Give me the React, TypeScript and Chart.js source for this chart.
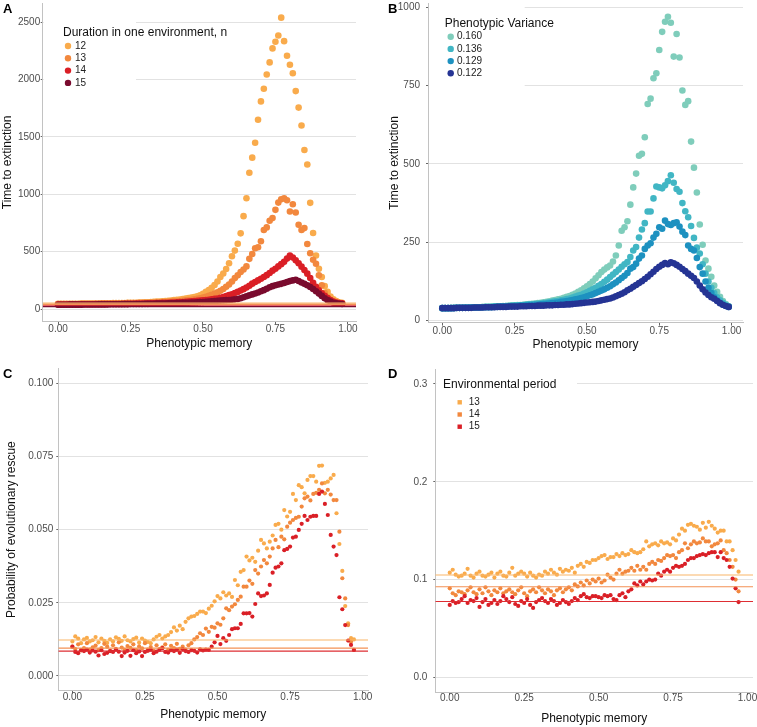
import React, { useEffect, useRef } from "react";
import { Chart, registerables } from "chart.js";

Chart.register(...registerables);

const FONT = "'Liberation Sans', Arial, Helvetica, sans-serif";
Chart.defaults.font.family = FONT;

// ---------------- data ----------------
const MEMORY = [
  0.0, 0.01, 0.02, 0.03, 0.04, 0.05, 0.06, 0.07, 0.08, 0.09,
  0.1, 0.11, 0.12, 0.13, 0.14, 0.15, 0.16, 0.17, 0.18, 0.19,
  0.2, 0.21, 0.22, 0.23, 0.24, 0.25, 0.26, 0.27, 0.28, 0.29,
  0.3, 0.31, 0.32, 0.33, 0.34, 0.35, 0.36, 0.37, 0.38, 0.39,
  0.4, 0.41, 0.42, 0.43, 0.44, 0.45, 0.46, 0.47, 0.48, 0.49,
  0.5, 0.51, 0.52, 0.53, 0.54, 0.55, 0.56, 0.57, 0.58, 0.59,
  0.6, 0.61, 0.62, 0.63, 0.64, 0.65, 0.66, 0.67, 0.68, 0.69,
  0.7, 0.71, 0.72, 0.73, 0.74, 0.75, 0.76, 0.77, 0.78, 0.79,
  0.8, 0.81, 0.82, 0.83, 0.84, 0.85, 0.86, 0.87, 0.88, 0.89,
  0.9, 0.91, 0.92, 0.93, 0.94, 0.95, 0.96, 0.97, 0.98, 0.99,
];

const X_TICKS = [0, 0.25, 0.5, 0.75, 1];
const A_Y_TICKS = [0, 500, 1000, 1500, 2000, 2500];
const B_Y_TICKS = [0, 250, 500, 750, 1000];
const C_Y_TICKS = [0, 0.025, 0.05, 0.075, 0.1];
const D_Y_TICKS = [0, 0.1, 0.2, 0.3];

// Panel A: time to extinction, by duration in one environment n
const A_LABELS = ["12", "13", "14", "15"];
const A_N12 = [
  46, 46, 46, 46, 47, 47, 47, 47, 48, 48,
  48, 48, 49, 49, 49, 50, 50, 51, 51, 52,
  52, 52, 53, 53, 54, 54, 55, 56, 57, 58,
  59, 60, 62, 63, 65, 66, 68, 70, 72, 75,
  78, 81, 84, 88, 92, 96, 101, 106, 112, 120,
  133, 150, 165, 185, 210, 240, 280, 310, 350, 400,
  460, 510, 570, 660, 810, 966, 1188, 1320, 1450, 1650,
  1810, 1920, 2044, 2150, 2272, 2330, 2385, 2540, 2335, 2208,
  2130, 2056, 1900, 1756, 1600, 1387, 1260, 926, 663, 467,
  352, 280, 200, 150, 110, 85, 70, 60, 54,
];
const A_N13 = [
  44, 44, 44, 44, 45, 45, 45, 45, 46, 46,
  46, 46, 47, 47, 47, 48, 48, 48, 49, 49,
  50, 50, 51, 51, 52, 52, 53, 53, 54, 55,
  55, 56, 57, 58, 59, 60, 61, 62, 64, 65,
  67, 69, 71, 73, 76, 79, 82, 86, 90, 95,
  101, 108, 116, 125, 135, 147, 160, 175, 195, 215,
  240, 270, 294, 323, 345, 372, 438, 480, 530, 539,
  591, 689, 712, 770, 793, 865, 928, 957, 966, 949,
  850, 914, 842, 735, 689, 706, 568, 487, 430, 395,
  294, 208, 140, 100, 80, 66, 57, 52, 48,
];
const A_N14 = [
  40, 40, 40, 40, 41, 41, 41, 41, 41, 42,
  42, 42, 42, 43, 43, 43, 43, 44, 44, 44,
  45, 45, 45, 46, 46, 47, 47, 48, 48, 49,
  49, 50, 51, 51, 52, 53, 54, 55, 56, 57,
  58, 59, 61, 62, 64, 66, 68, 70, 72, 74,
  76, 78, 81, 85, 89, 93, 98, 106, 114, 122,
  130, 140, 150, 162, 174, 188, 203, 222, 236, 250,
  265, 280, 296, 315, 335, 352, 372, 392, 412, 440,
  467, 450, 425, 400, 370, 340, 309, 270, 230, 195,
  164, 138, 115, 96, 78, 66, 58, 53, 50,
];
const A_N15 = [
  38, 38, 38, 38, 39, 39, 39, 39, 39, 40,
  40, 40, 40, 40, 41, 41, 41, 41, 42, 42,
  42, 42, 43, 43, 43, 44, 44, 44, 45, 45,
  46, 46, 47, 47, 48, 48, 49, 49, 50, 51,
  51, 52, 53, 54, 55, 56, 57, 58, 59, 61,
  62, 64, 66, 68, 70, 72, 74, 76, 78, 80,
  82, 85, 88, 95, 103, 112, 120, 128, 136, 145,
  155, 165, 178, 190, 200, 208, 214, 220, 228, 236,
  244, 250, 256, 245, 232, 220, 208, 193, 175, 155,
  135, 115, 95, 78, 65, 56, 50, 47, 45,
];
const A_BASELINES = [52, 42, 28, 22];

// Panel B: time to extinction, by phenotypic variance
const B_LABELS = ["0.160", "0.136", "0.129", "0.122"];
const B_V160 = [
  40, 40, 40, 41, 41, 41, 41, 42, 42, 42,
  42, 43, 43, 43, 44, 44, 44, 45, 45, 46,
  46, 47, 47, 48, 48, 49, 50, 50, 51, 52,
  53, 54, 55, 56, 57, 59, 60, 62, 64, 66,
  68, 70, 73, 76, 79, 83, 87, 92, 97, 103,
  110, 117, 125, 135, 145, 155, 163, 170, 176, 189,
  208, 240, 287, 298, 317, 370, 425, 469, 526, 532,
  585, 691, 708, 773, 789, 863, 921, 953, 969, 950,
  842, 914, 839, 734, 688, 700, 571, 488, 409, 307,
  242, 192, 166, 140, 112, 92, 76, 63, 53, 46,
];
const B_V136 = [
  40, 40, 40, 40, 41, 41, 41, 41, 42, 42,
  42, 42, 43, 43, 43, 44, 44, 44, 45, 45,
  46, 46, 47, 47, 48, 48, 49, 49, 50, 51,
  52, 52, 53, 54, 55, 56, 57, 59, 60, 62,
  63, 65, 67, 69, 71, 74, 77, 80, 83, 87,
  91, 95, 100, 105, 111, 117, 124, 131, 139, 147,
  155, 163, 172, 180, 187, 203, 224, 235, 265, 291,
  311, 348, 348, 390, 428, 425, 422, 432, 445, 464,
  440, 420, 411, 375, 349, 330, 302, 264, 233, 214,
  180, 150, 125, 105, 88, 75, 65, 57, 50, 45,
];
const B_V129 = [
  40, 40, 40, 40, 40, 41, 41, 41, 41, 41,
  42, 42, 42, 42, 43, 43, 43, 43, 44, 44,
  45, 45, 45, 46, 46, 47, 47, 48, 48, 49,
  49, 50, 51, 51, 52, 53, 54, 55, 56, 57,
  58, 60, 61, 63, 64, 66, 68, 70, 72, 75,
  78, 81, 84, 88, 92, 96, 100, 105, 110, 116,
  122, 129, 136, 143, 152, 166, 171, 182, 198, 208,
  229, 240, 247, 265, 277, 298, 293, 319, 308, 305,
  311, 314, 300, 284, 273, 240, 229, 224, 200, 171,
  150, 125, 105, 88, 75, 65, 57, 51, 47, 44,
];
const B_V122 = [
  40, 40, 40, 40, 40, 41, 41, 41, 41, 41,
  41, 42, 42, 42, 42, 43, 43, 43, 43, 44,
  44, 44, 44, 45, 45, 45, 45, 46, 46, 46,
  47, 47, 47, 48, 48, 48, 49, 49, 49, 50,
  50, 51, 51, 52, 52, 53, 54, 55, 56, 57,
  58, 59, 60, 61, 63, 65, 67, 69, 71, 74,
  78, 82, 86, 91, 97, 102, 108, 114, 120, 126,
  133, 140, 148, 156, 165, 172, 178, 184, 180, 186,
  183, 178, 172, 165, 158, 150, 143, 136, 125, 112,
  100, 90, 82, 75, 70, 63, 56, 51, 47, 44,
];

// Panel C: probability of evolutionary rescue
const C_LABELS = ["13", "14", "15"];
const C_P13 = [
  0.0118, 0.0135, 0.0128, 0.0112, 0.0125, 0.013, 0.0118, 0.0122, 0.0133, 0.0115,
  0.0128, 0.012, 0.0113, 0.0125, 0.0118, 0.0132, 0.0127, 0.012, 0.0135, 0.0122,
  0.0118, 0.0126, 0.0131, 0.0114, 0.0128, 0.0121, 0.0116, 0.0112, 0.0125, 0.0134,
  0.014, 0.0128, 0.0135, 0.014, 0.015, 0.0166, 0.0155, 0.0172, 0.016, 0.0185,
  0.0197, 0.0203, 0.0205, 0.0212, 0.022, 0.022, 0.0215, 0.023, 0.024, 0.0255,
  0.0273, 0.0265, 0.0286, 0.0275, 0.0282, 0.027, 0.0328, 0.031, 0.0356, 0.0362,
  0.0408, 0.0395, 0.0404, 0.039, 0.0428, 0.0465, 0.0453, 0.0436, 0.0459, 0.048,
  0.0516, 0.052, 0.05, 0.0567, 0.0545, 0.0561, 0.0622, 0.0601, 0.0652, 0.0645,
  0.0624, 0.067, 0.0683, 0.0683, 0.0664, 0.0718, 0.0719, 0.066, 0.0664, 0.0675,
  0.0687, 0.0556, 0.0451, 0.0359, 0.0239, 0.018, 0.0129, 0.0125,
];
const C_P14 = [
  0.01, 0.0092, 0.0108, 0.0087, 0.0095, 0.0112, 0.009, 0.0098, 0.0104, 0.0088,
  0.0095, 0.011, 0.01, 0.0086, 0.0105, 0.0093, 0.0115, 0.0097, 0.0089, 0.0102,
  0.0096, 0.0108, 0.0088, 0.0101, 0.0094, 0.0112, 0.009, 0.0099, 0.0086, 0.0105,
  0.0092, 0.0098, 0.0108, 0.0089, 0.0103, 0.0095, 0.011, 0.0093, 0.01, 0.009,
  0.0105, 0.0112, 0.0125, 0.0133, 0.0146, 0.014, 0.0162, 0.0151, 0.0168, 0.0165,
  0.018, 0.0175, 0.0197, 0.0231, 0.0225, 0.0237, 0.0245, 0.026, 0.0271, 0.0305,
  0.0305, 0.0326, 0.0315, 0.0362, 0.035, 0.0374, 0.0396, 0.0385, 0.0408, 0.0436,
  0.0465, 0.044, 0.0476, 0.0467, 0.051, 0.0524, 0.0533, 0.054, 0.0544, 0.0579,
  0.0607, 0.0613, 0.06, 0.0622, 0.0626, 0.0636, 0.0658, 0.0624, 0.0636, 0.062,
  0.0601, 0.0601, 0.0493, 0.0334, 0.0265, 0.0174, 0.0117, 0.0089,
];
const C_P15 = [
  0.01, 0.0082, 0.0078, 0.0088, 0.0085, 0.009, 0.008, 0.0087, 0.0083, 0.007,
  0.0088, 0.0075, 0.0079, 0.0085, 0.0082, 0.009, 0.0083, 0.0068, 0.008, 0.0086,
  0.0069, 0.0088, 0.0078, 0.0084, 0.0068, 0.0082, 0.0086, 0.009, 0.0078, 0.0083,
  0.0089, 0.0095, 0.0082, 0.008, 0.0088, 0.0085, 0.009, 0.0079, 0.0092, 0.0085,
  0.0082, 0.0088, 0.0086, 0.008, 0.0091, 0.0087, 0.009, 0.0089, 0.01, 0.0115,
  0.0137, 0.0109, 0.0129, 0.012, 0.014, 0.016, 0.0163, 0.0163, 0.0178, 0.0214,
  0.0214, 0.0215, 0.0203, 0.0246, 0.0282, 0.0273, 0.0275, 0.0282, 0.0311, 0.0353,
  0.037, 0.0374, 0.0385, 0.043, 0.0434, 0.0442, 0.0473, 0.0476, 0.0499, 0.052,
  0.0547, 0.0533, 0.0544, 0.0547, 0.0547, 0.0622, 0.063, 0.0588, 0.055, 0.0482,
  0.0442, 0.0413, 0.0269, 0.0228, 0.0174, 0.0121, 0.0106, 0.0089,
];
const C_BASELINES = [0.0123, 0.0095, 0.0085];

// Panel D: by environmental period
const D_LABELS = ["13", "14", "15"];
const D_P13 = [
  0.107, 0.11, 0.105, 0.103, 0.104, 0.106, 0.111, 0.104, 0.102, 0.106,
  0.108, 0.104, 0.103, 0.105, 0.107, 0.102, 0.106, 0.108, 0.104, 0.103,
  0.107, 0.112, 0.104, 0.106, 0.108, 0.106, 0.103, 0.107, 0.104, 0.102,
  0.105, 0.104, 0.108, 0.106, 0.11, 0.107, 0.105, 0.111, 0.108, 0.11,
  0.109, 0.112, 0.107, 0.114, 0.116, 0.113, 0.118, 0.117, 0.12, 0.12,
  0.122, 0.124, 0.125, 0.121, 0.123, 0.123, 0.126, 0.124, 0.127, 0.125,
  0.126, 0.13, 0.128, 0.127, 0.128, 0.131, 0.139, 0.134, 0.136, 0.137,
  0.135, 0.139, 0.137, 0.138, 0.136, 0.142, 0.14, 0.146, 0.152, 0.15,
  0.156, 0.157, 0.155, 0.154, 0.151, 0.158, 0.153, 0.159, 0.155, 0.152,
  0.148, 0.15, 0.15, 0.139, 0.139, 0.13, 0.12, 0.108,
];
const D_P14 = [
  0.091, 0.086, 0.084, 0.088, 0.087, 0.085, 0.089, 0.092, 0.087, 0.085,
  0.09, 0.086, 0.092, 0.088, 0.084, 0.089, 0.087, 0.091, 0.086, 0.088,
  0.09, 0.087, 0.085, 0.089, 0.092, 0.086, 0.083, 0.088, 0.09, 0.087,
  0.092, 0.089, 0.086, 0.09, 0.088, 0.084, 0.089, 0.091, 0.087, 0.09,
  0.092, 0.089, 0.095, 0.093, 0.097, 0.094, 0.099, 0.096, 0.1, 0.098,
  0.101, 0.097, 0.099, 0.105, 0.102, 0.1, 0.106, 0.11, 0.106, 0.108,
  0.109, 0.112, 0.109, 0.114, 0.11, 0.113, 0.11, 0.116, 0.118, 0.116,
  0.12, 0.119, 0.122, 0.125, 0.124, 0.125, 0.122, 0.128, 0.13, 0.137,
  0.132, 0.136, 0.139, 0.137, 0.138, 0.142, 0.139, 0.139, 0.134, 0.136,
  0.137, 0.14, 0.13, 0.127, 0.12, 0.113, 0.1, 0.088,
];
const D_P15 = [
  0.074, 0.078, 0.076, 0.077, 0.08, 0.083, 0.076, 0.079, 0.078, 0.081,
  0.072, 0.077, 0.08, 0.074, 0.076, 0.079, 0.075, 0.078, 0.083, 0.08,
  0.077, 0.082, 0.075, 0.073, 0.078, 0.076, 0.08, 0.074, 0.071, 0.077,
  0.079, 0.081, 0.078, 0.076, 0.08, 0.078, 0.074, 0.076, 0.079, 0.077,
  0.075, 0.078, 0.081, 0.079, 0.083, 0.085, 0.082, 0.081, 0.083, 0.083,
  0.082, 0.081, 0.084, 0.083, 0.084, 0.08, 0.079, 0.084, 0.086, 0.082,
  0.088, 0.09, 0.096, 0.094, 0.098, 0.095, 0.098, 0.1, 0.099, 0.1,
  0.106, 0.104, 0.108, 0.11, 0.108, 0.112, 0.114, 0.113, 0.114, 0.116,
  0.12, 0.122, 0.122, 0.124, 0.125, 0.126, 0.125, 0.127, 0.128, 0.128,
  0.123, 0.128, 0.122, 0.12, 0.113, 0.101, 0.091, 0.077,
];
const D_BASELINES = [0.1046, 0.0927, 0.0775];

// ---------------- styles ----------------
const WARM = ["#F9AB4C", "#F2883E", "#DA1F26", "#7A0B2E"];
const WARM_LINES = ["#F9B569", "#F39155", "#DE2E33", "#7A0B2E"];
const COOL = ["#7FCDBB", "#41B6C4", "#1D91C0", "#253494"];

type LegendSpec = {
  title: string;
  square: boolean;
  titleX: number;
  titleY: number;
  markerX: number;
  textX: number;
  itemY: number;
  itemDy: number;
  markerR: number;
  boxTop: number;
  boxBottom: number;
  boxRight: number;
};

type PanelSpec = {
  letter: string;
  letterLeft: number;
  letterTop: number;
  left: number;
  top: number;
  width: number;
  height: number;
  series: number[][];
  labels: string[];
  colors: string[];
  radius: number;
  baselines: number[];
  lineColors: string[];
  lineWidth: number;
  xMin: number;
  xMax: number;
  yMin: number;
  yMax: number;
  yTicks: number[];
  yDigits: number | null;
  yTitle: string | null;
  yTitlePad: number;
  xTitlePad: number;
  yAxisW: number;
  yTickPad: number;
  xAxisH: number;
  xTickPad: number;
  padTop: number;
  padRight: number;
  legend: LegendSpec | null;
};

const PANELS: PanelSpec[] = [
  {
    letter: "A", letterLeft: 3, letterTop: 1.6,
    left: 0, top: 0, width: 378, height: 352,
    series: [A_N12, A_N13, A_N14, A_N15], labels: A_LABELS, colors: WARM, radius: 3.3,
    baselines: A_BASELINES, lineColors: WARM_LINES, lineWidth: 1.3,
    xMin: -0.053, xMax: 1.028, yMin: -108, yMax: 2665, yTicks: A_Y_TICKS, yDigits: null,
    yTitle: "Time to extinction", yTitlePad: 0, xTitlePad: 0.8,
    yAxisW: 42.7, yTickPad: 0.5, xAxisH: 30.5, xTickPad: -1.2, padTop: 1, padRight: 22,
    legend: {
      title: "Duration in one environment, n", square: false,
      titleX: 63, titleY: 33, markerX: 68, textX: 75, itemY: 46, itemDy: 12.3, markerR: 3.2,
      boxTop: 12, boxBottom: 88, boxRight: 136,
    },
  },
  {
    letter: "B", letterLeft: 388, letterTop: 1.6,
    left: 378, top: 0, width: 379, height: 352,
    series: [B_V160, B_V136, B_V129, B_V122], labels: B_LABELS, colors: COOL, radius: 3.3,
    baselines: [], lineColors: [], lineWidth: 1,
    xMin: -0.0495, xMax: 1.0395, yMin: -6, yMax: 1012, yTicks: B_Y_TICKS, yDigits: null,
    yTitle: "Time to extinction", yTitlePad: 9.5, xTitlePad: 0,
    yAxisW: 50, yTickPad: 6, xAxisH: 29.4, xTickPad: -0.1, padTop: 1.2, padRight: 14,
    legend: {
      title: "Phenotypic Variance", square: false,
      titleX: 66.7, titleY: 24, markerX: 72.7, textX: 79, itemY: 36.7, itemDy: 12.2, markerR: 3.2,
      boxTop: 1.5, boxBottom: 90, boxRight: 146.7,
    },
  },
  {
    letter: "C", letterLeft: 3, letterTop: 367.3,
    left: 0, top: 352, width: 378, height: 375,
    series: [C_P13, C_P14, C_P15], labels: C_LABELS, colors: WARM, radius: 2.1,
    baselines: C_BASELINES, lineColors: WARM_LINES, lineWidth: 1.1,
    xMin: -0.0485, xMax: 1.0185, yMin: -0.005, yMax: 0.105, yTicks: C_Y_TICKS, yDigits: 3,
    yTitle: "Probability of evolutionary rescue", yTitlePad: 4.5, xTitlePad: 4.8,
    yAxisW: 58.3, yTickPad: 3, xAxisH: 36.4, xTickPad: -2.4, padTop: 16.7, padRight: 10,
    legend: null,
  },
  {
    letter: "D", letterLeft: 388, letterTop: 367.3,
    left: 378, top: 352, width: 379, height: 375,
    series: [D_P13, D_P14, D_P15], labels: D_LABELS, colors: WARM, radius: 2.1,
    baselines: D_BASELINES, lineColors: WARM_LINES, lineWidth: 1.1,
    xMin: -0.0485, xMax: 1.0185, yMin: -0.015, yMax: 0.315, yTicks: D_Y_TICKS, yDigits: 1,
    yTitle: null, yTitlePad: 0, xTitlePad: 0.8,
    yAxisW: 57.3, yTickPad: 6, xAxisH: 35, xTickPad: -3.2, padTop: 17.3, padRight: 4,
    legend: {
      title: "Environmental period", square: true,
      titleX: 65, titleY: 33, markerX: 81.7, textX: 90.7, itemY: 50.3, itemDy: 12.2, markerR: 2.2,
      boxTop: 18, boxBottom: 80, boxRight: 199,
    },
  },
];

function Panel({ spec }: { spec: PanelSpec }) {
  const ref = useRef<HTMLCanvasElement>(null);

  useEffect(() => {
    const canvas = ref.current;
    if (!canvas) return;

    const datasets: any[] = [];
    spec.series.forEach((vals, i) => {
      datasets.push({
        type: "scatter",
        label: spec.labels[i],
        data: vals.map((v, k) => ({ x: MEMORY[k], y: v })),
        backgroundColor: spec.colors[i],
        borderColor: spec.colors[i],
        borderWidth: 0,
        pointRadius: spec.radius,
        pointHoverRadius: spec.radius,
        pointBorderWidth: 0,
        order: 10 - i,
      });
    });
    spec.baselines.forEach((v, i) => {
      datasets.push({
        type: "line",
        label: spec.labels[i] + " reference",
        data: [
          { x: spec.xMin, y: v },
          { x: spec.xMax, y: v },
        ],
        borderColor: spec.lineColors[i],
        borderWidth: spec.lineWidth,
        pointRadius: 0,
        fill: false,
        order: 5 - i,
      });
    });

    const legendPlugin = {
      id: "panelLegend" + spec.letter,
      afterDraw(chart: any) {
        const lg = spec.legend;
        if (!lg) return;
        const ctx = chart.ctx as CanvasRenderingContext2D;
        const area = chart.chartArea;
        ctx.save();
        ctx.fillStyle = "#ffffff";
        ctx.fillRect(area.left + 1, lg.boxTop, lg.boxRight - area.left - 1, lg.boxBottom - lg.boxTop);
        ctx.textAlign = "left";
        ctx.textBaseline = "middle";
        ctx.fillStyle = "#111111";
        ctx.font = `12px ${FONT}`;
        ctx.fillText(lg.title, lg.titleX, lg.titleY);
        ctx.font = `10px ${FONT}`;
        spec.labels.forEach((lab, i) => {
          const y = lg.itemY + i * lg.itemDy;
          ctx.fillStyle = spec.colors[i];
          if (lg.square) {
            ctx.fillRect(lg.markerX - lg.markerR, y - lg.markerR, lg.markerR * 2, lg.markerR * 2);
          } else {
            ctx.beginPath();
            ctx.arc(lg.markerX, y, lg.markerR, 0, Math.PI * 2);
            ctx.fill();
          }
          ctx.fillStyle = "#222222";
          ctx.fillText(lab, lg.textX, y);
        });
        ctx.restore();
      },
    };

    const chart = new Chart(canvas, {
      type: "scatter",
      data: { datasets },
      options: {
        responsive: false,
        maintainAspectRatio: false,
        animation: false,
        devicePixelRatio: 1,
        events: [],
        layout: { padding: { left: 0, top: spec.padTop, right: spec.padRight, bottom: 0 } },
        plugins: {
          legend: { display: false },
          tooltip: { enabled: false },
        },
        scales: {
          x: {
            type: "linear",
            position: "bottom",
            min: spec.xMin,
            max: spec.xMax,
            afterBuildTicks: (s: any) => {
              s.ticks = X_TICKS.map((v) => ({ value: v }));
            },
            afterFit: (s: any) => {
              s.height = spec.xAxisH;
              s.paddingLeft = 0;
              s.paddingRight = 0;
              s.paddingTop = 0;
              s.paddingBottom = 0;
            },
            ticks: {
              callback: (v: any) => Number(v).toFixed(2),
              color: "#4d4d4d",
              font: { size: 10 },
              padding: spec.xTickPad,
              maxRotation: 0,
              minRotation: 0,
              autoSkip: false,
            },
            grid: {
              display: true,
              drawOnChartArea: false,
              drawTicks: true,
              tickLength: 3,
              tickColor: "#666666",
              color: "#666666",
              lineWidth: 1,
            },
            border: { display: true, color: "#c2c2c2", width: 1 },
            title: {
              display: true,
              text: "Phenotypic memory",
              color: "#111111",
              font: { size: 12, lineHeight: 1.2 },
              padding: { top: 0, bottom: spec.xTitlePad },
            },
          },
          y: {
            type: "linear",
            position: "left",
            min: spec.yMin,
            max: spec.yMax,
            afterBuildTicks: (s: any) => {
              s.ticks = spec.yTicks.map((v) => ({ value: v }));
            },
            afterFit: (s: any) => {
              s.width = spec.yAxisW;
              s.paddingLeft = 0;
              s.paddingRight = 0;
              s.paddingTop = 0;
              s.paddingBottom = 0;
            },
            ticks: {
              callback: (v: any) =>
                spec.yDigits === null ? String(Number(v)) : Number(v).toFixed(spec.yDigits),
              color: "#4d4d4d",
              font: { size: 10 },
              padding: spec.yTickPad,
              autoSkip: false,
            },
            grid: {
              color: "#e2e2e2",
              lineWidth: 1,
              drawTicks: true,
              tickLength: 2,
              tickColor: "#666666",
            },
            border: { display: true, color: "#c2c2c2", width: 1 },
            title: {
              display: !!spec.yTitle,
              text: spec.yTitle || "",
              color: "#111111",
              font: { size: 12, lineHeight: 1.2 },
              padding: { top: spec.yTitlePad, bottom: 0 },
            },
          },
        },
      } as any,
      plugins: [legendPlugin],
    });

    return () => chart.destroy();
  }, [spec]);

  return (
    <>
      <canvas
        ref={ref}
        width={spec.width}
        height={spec.height}
        style={{
          position: "absolute",
          left: spec.left,
          top: spec.top,
          width: spec.width,
          height: spec.height,
        }}
      />
      <div
        style={{
          position: "absolute",
          left: spec.letterLeft,
          top: spec.letterTop,
          fontFamily: FONT,
          fontWeight: "bold",
          fontSize: 13,
          lineHeight: "13px",
          color: "#000",
        }}
      >
        {spec.letter}
      </div>
    </>
  );
}

export default function App() {
  return (
    <div
      style={{
        position: "fixed",
        left: 0,
        top: 0,
        width: 757,
        height: 727,
        background: "#ffffff",
        overflow: "hidden",
      }}
    >
      {PANELS.map((p) => (
        <Panel key={p.letter} spec={p} />
      ))}
    </div>
  );
}
